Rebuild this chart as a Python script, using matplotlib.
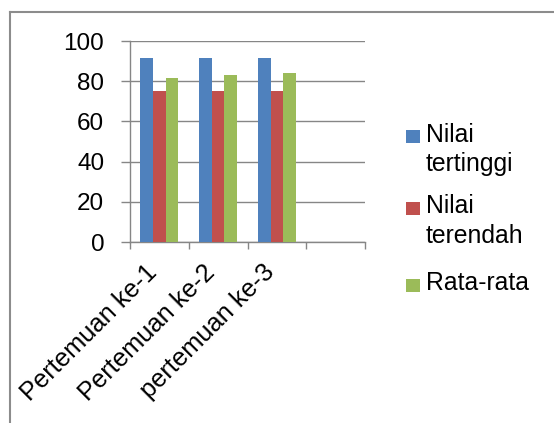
import matplotlib
matplotlib.use("Agg")
import matplotlib.pyplot as plt
import numpy as np
from matplotlib.lines import Line2D
from matplotlib.patches import Rectangle
import matplotlib.transforms as mtransforms

plt.rcParams['font.family'] = ['Liberation Sans', 'DejaVu Sans']

categories = ["Pertemuan ke-1", "Pertemuan ke-2", "pertemuan ke-3"]
series_names = ["Nilai tertinggi", "Nilai terendah", "Rata-rata"]
legend_lines = [["Nilai", "tertinggi"], ["Nilai", "terendah"], ["Rata-rata"]]
nilai_tertinggi = [91.6, 91.6, 91.6]
nilai_terendah = [75, 75, 75]
rata_rata = [81.5, 82.9, 84.2]
colors = ["#4F81BD", "#C0504D", "#9BBB59"]
yticks = [0, 20, 40, 60, 80, 100]

W, H = 554, 423
fig = plt.figure(figsize=(W / 100, H / 100), dpi=100)

def fx(x):
    return x / W

def fy(y):
    return 1 - y / H

ax = fig.add_axes([fx(130), fy(242), (365 - 130) / W, (242 - 41) / H])

values = [nilai_tertinggi, nilai_terendah, rata_rata]
n_slots = len(categories) + 1
x = np.arange(len(categories))
bw = 0.216
for i, (vals, c, name) in enumerate(zip(values, colors, series_names)):
    ax.bar(x + (i - 1) * bw, vals, width=bw, color=c, zorder=3, linewidth=0, label=name)

ax.set_xlim(-0.5, n_slots - 0.5)
ax.set_ylim(0, 100)
ax.set_yticks(yticks)
ax.set_yticklabels([str(v) for v in yticks])
ax.yaxis.grid(True, color="#868686", linewidth=1.0, zorder=0)

ax.set_xticks(np.arange(-0.5, n_slots, 1.0))
ax.set_xticklabels([])
ax.set_xticks(x, minor=True)
ax.set_xticklabels(categories, minor=True, rotation=45, ha="right",
                   rotation_mode="default", fontsize=18.3)
ax.tick_params(axis="x", which="major", length=5, width=1.0, color="#868686", direction="out")
ax.tick_params(axis="x", which="minor", length=0, pad=13)
ax.tick_params(axis="y", length=6.5, width=1.0, color="#868686", direction="out",
               labelsize=17.5, pad=12)

offset = mtransforms.ScaledTranslation(2 / 100, 0, fig.dpi_scale_trans)
for lab in ax.xaxis.get_minorticklabels():
    lab.set_transform(lab.get_transform() + offset)

for s in ["top", "right"]:
    ax.spines[s].set_visible(False)
for s in ["left", "bottom"]:
    ax.spines[s].set_color("#868686")
    ax.spines[s].set_linewidth(1.0)

# legend drawn manually (Excel style: square aligned with first line)
baselines = [141.7, 213.3, 290.0]
for lines, c, b in zip(legend_lines, colors, baselines):
    fig.patches.append(Rectangle((fx(406), fy(b + 1.5)), 13.5 / W, 13 / H,
                                 transform=fig.transFigure, facecolor=c,
                                 edgecolor="none"))
    for k, t in enumerate(lines):
        fig.text(fx(426), fy(b + k * 29.5), t, fontsize=17.8, va="baseline",
                 ha="left", color="black")

# outer frame
fig.add_artist(Line2D([fx(10), fx(10)], [fy(H), fy(12)], transform=fig.transFigure,
                      color="#8c8c8c", linewidth=1.5))
fig.add_artist(Line2D([fx(10), fx(W)], [fy(12), fy(12)], transform=fig.transFigure,
                      color="#8c8c8c", linewidth=1.5))

fig.savefig("out.png", dpi=100)
